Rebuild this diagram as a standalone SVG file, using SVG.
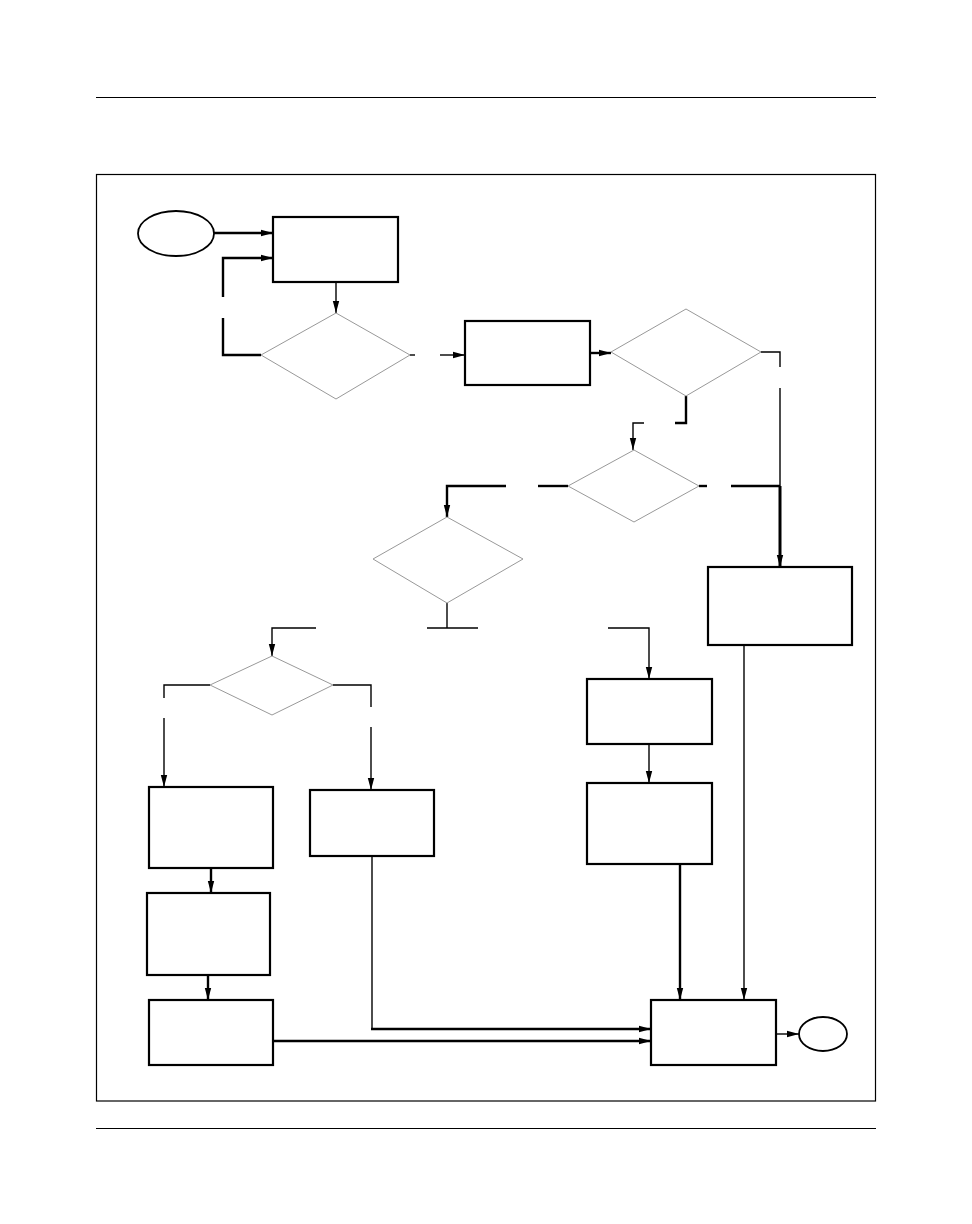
<svg xmlns="http://www.w3.org/2000/svg" width="972" height="1224" viewBox="0 0 972 1224">
<style>
.box{fill:#fff;stroke:#000;stroke-width:2.2}
.dia{fill:#fff;stroke:#999;stroke-width:1}
.ell{fill:#fff;stroke:#000;stroke-width:1.8}
.c{fill:none;stroke:#000;stroke-width:1.4}
.t{fill:none;stroke:#000;stroke-width:2.4}
.tt{fill:none;stroke:#000;stroke-width:3}
.rule{stroke:#000;stroke-width:1.2}
</style>
<defs>
<marker id="ah" markerUnits="userSpaceOnUse" markerWidth="12" markerHeight="8" refX="12" refY="4" orient="auto">
<path d="M0,0.8 L12,4 L0,7.2 z" fill="#000"/>
</marker>
</defs>
<rect width="972" height="1224" fill="#fff"/>
<line class="rule" x1="96" y1="97.5" x2="876" y2="97.5"/>
<line class="rule" x1="96" y1="1128.5" x2="876" y2="1128.5"/>
<rect x="96.5" y="174.5" width="779" height="926.5" fill="none" stroke="#000" stroke-width="1.2"/>

<g id="connectors">
<path class="t" d="M214,233 H273" marker-end="url(#ah)"/>
<path class="t" d="M261,355 H223 V318"/>
<path class="t" d="M223,297 V258 H273" marker-end="url(#ah)"/>
<path class="c" d="M336,282 V313" marker-end="url(#ah)"/>
<path class="c" d="M410,355 H415"/>
<path class="c" d="M440,355 H465" marker-end="url(#ah)"/>
<path class="t" d="M590,353 H611" marker-end="url(#ah)"/>
<path class="c" d="M761,352 H780 V367"/>
<path class="c" d="M780,388 V486"/>
<path class="t" d="M686,396 V423 H675"/>
<path class="c" d="M644,423 H633 V450" marker-end="url(#ah)"/>
<path class="t" d="M568,486 H538"/>
<path class="t" d="M506,486 H447 V517" marker-end="url(#ah)"/>
<path class="t" d="M699,486 H707"/>
<path class="t" d="M731,486 H780"/>
<path class="tt" d="M780,486 V567" marker-end="url(#ah)"/>
<path class="c" d="M447,603 V628"/>
<path class="c" d="M427,628 H478"/>
<path class="c" d="M316,628 H272 V656" marker-end="url(#ah)"/>
<path class="c" d="M608,628 H649 V679" marker-end="url(#ah)"/>
<path class="c" d="M210,685 H164 V698"/>
<path class="c" d="M164,718 V787" marker-end="url(#ah)"/>
<path class="c" d="M333,685 H371 V707"/>
<path class="c" d="M371,727 V790" marker-end="url(#ah)"/>
<path class="c" d="M649,744 V783" marker-end="url(#ah)"/>
<path class="t" d="M211,868 V893" marker-end="url(#ah)"/>
<path class="t" d="M208,975 V1000" marker-end="url(#ah)"/>
<path class="c" d="M372,856 V1029"/>
<path class="t" d="M371,1029 H651" marker-end="url(#ah)"/>
<path class="t" d="M273,1041 H651" marker-end="url(#ah)"/>
<path class="t" d="M680,864 V1000" marker-end="url(#ah)"/>
<path class="c" d="M744,645 V1000" marker-end="url(#ah)"/>
<path class="c" d="M776,1034 H799" marker-end="url(#ah)"/>
</g>

<g id="start"><ellipse class="ell" cx="176" cy="233.5" rx="38" ry="22.5"/></g>
<g id="box1"><rect class="box" x="273" y="217" width="125" height="65"/></g>
<g id="diamond1"><polygon class="dia" points="336,313 410,355 336,399 261,355"/></g>
<g id="box2"><rect class="box" x="465" y="321" width="125" height="64"/></g>
<g id="diamond2"><polygon class="dia" points="686,309 761,352 686,396 611,352"/></g>
<g id="diamond3"><polygon class="dia" points="634,450 699,486 634,522 568,486"/></g>
<g id="diamond4"><polygon class="dia" points="447,517 523,559 447,603 373,559"/></g>
<g id="boxC"><rect class="box" x="708" y="567" width="144" height="78"/></g>
<g id="diamond5"><polygon class="dia" points="272,656 333,685 272,715 210,685"/></g>
<g id="boxA"><rect class="box" x="587" y="679" width="125" height="65"/></g>
<g id="boxB"><rect class="box" x="587" y="783" width="125" height="81"/></g>
<g id="boxL1"><rect class="box" x="149" y="787" width="124" height="81"/></g>
<g id="boxM"><rect class="box" x="310" y="790" width="124" height="66"/></g>
<g id="boxL2"><rect class="box" x="147" y="893" width="123" height="82"/></g>
<g id="boxL3"><rect class="box" x="149" y="1000" width="124" height="65"/></g>
<g id="boxFinal"><rect class="box" x="651" y="1000" width="125" height="65"/></g>
<g id="end"><ellipse class="ell" cx="823" cy="1034" rx="24" ry="17"/></g>
</svg>
